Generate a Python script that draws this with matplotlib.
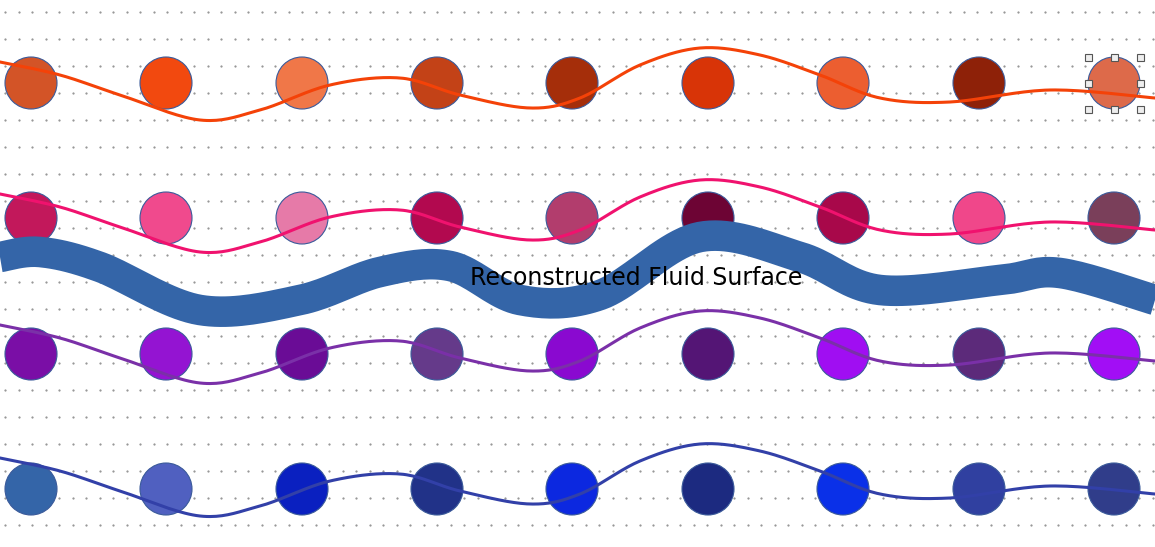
import numpy as np
import matplotlib.pyplot as plt
from matplotlib.patches import Circle, Rectangle

# circle centres (pixel coords of the sketch)
col_x = [31, 166, 302, 437, 572, 708, 843, 979, 1114]
row_y = [83, 218, 354, 489]
row_colors = [
    ['#d35427', '#f2490f', '#f07748', '#c34217', '#a52e0a', '#d83407', '#ec5e30', '#8e2108', '#dd6a4a'],
    ['#c2185b', '#f04a8d', '#e67aa8', '#b2094f', '#b23d6d', '#6d0434', '#a8084a', '#f0478a', '#7a3f5a'],
    ['#7a0ea6', '#9414d2', '#6a0c96', '#653a8a', '#8a09d0', '#541575', '#a00ef2', '#5c2a7a', '#a20ef5'],
    ['#3465a8', '#5060c0', '#0a20c0', '#213288', '#0c28e0', '#1c2a80', '#0a30e8', '#3040a0', '#303d8a'],
]

# thin wave (shape of top wave), other rows offset
wave_x = [0, 60, 120, 200, 260, 330, 400, 460, 530, 580, 640, 700, 760, 820, 880, 950, 1050, 1155]
wave_y = [62, 75, 95, 120, 110, 85, 78, 95, 108, 98, 65, 48, 55, 75, 98, 102, 90, 98]
wave_offsets = [0, 132, 263, 396]
wave_colors = ['#f44208', '#f0126e', '#7a30a8', '#3240a8']

surf_x = [0, 40, 100, 200, 300, 380, 450, 520, 600, 700, 800, 880, 1000, 1060, 1155]
surf_y = [257, 252, 267, 310, 300, 272, 266, 300, 295, 237, 257, 290, 280, 273, 300]


def smooth(xs, ys, n=20):
    p = np.column_stack([xs, ys]).astype(float)
    p = np.vstack([p[0], p, p[-1]])
    out = []
    for i in range(1, len(p) - 2):
        p0, p1, p2, p3 = p[i - 1], p[i], p[i + 1], p[i + 2]
        for t in np.linspace(0, 1, n, endpoint=False):
            out.append(0.5 * (2 * p1 + (-p0 + p2) * t + (2 * p0 - 5 * p1 + 4 * p2 - p3) * t**2
                              + (-p0 + 3 * p1 - 3 * p2 + p3) * t**3))
    out.append(p[-2])
    out = np.array(out)
    return out[:, 0], out[:, 1]


fig = plt.figure(figsize=(11.55, 5.47), dpi=100)
ax = fig.add_axes([0, 0, 1, 1])
ax.set_xlim(0, 1155)
ax.set_ylim(547, 0)
ax.axis('off')

# dotted background grid
gx, gy = np.meshgrid(np.arange(5, 1155, 13.5), np.arange(12, 547, 27))
ax.scatter(gx.ravel(), gy.ravel(), s=0.3, c='#888888', zorder=0)

for r, y in enumerate(row_y):
    for x, c in zip(col_x, row_colors[r]):
        ax.add_patch(Circle((x, y), 26, facecolor=c, edgecolor='#3a5a9a', lw=0.8, zorder=2))

for off, c in zip(wave_offsets, wave_colors):
    sx, sy = smooth(wave_x, [v + off for v in wave_y])
    ax.plot(sx, sy, color=c, lw=2.2, zorder=3)

sx, sy = smooth(surf_x, surf_y)
ax.plot(sx, sy, color='#3465a8', lw=22, solid_capstyle='butt', zorder=4)
ax.text(636, 278, 'Reconstructed Fluid Surface', fontsize=17, ha='center', va='center', zorder=5)

# selection handles around the last top circle
for hx in [1088, 1114, 1140]:
    for hy in [57, 83, 109]:
        if hx == 1114 and hy == 83:
            continue
        ax.add_patch(Rectangle((hx - 3.5, hy - 3.5), 7, 7, facecolor='#eeeeee',
                               edgecolor='#555555', lw=0.8, zorder=6))

fig.savefig('out.png', dpi=100)
